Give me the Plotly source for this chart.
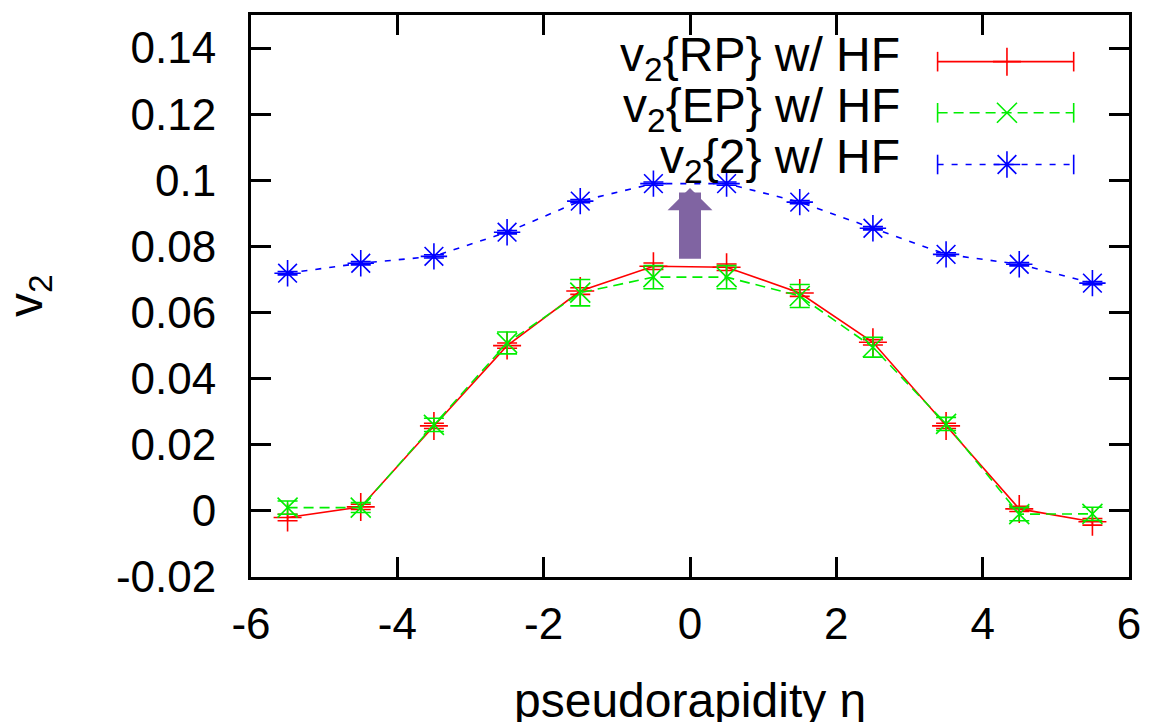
import plotly.graph_objects as go

eta = [-5.5, -4.5, -3.5, -2.5, -1.5, -0.5, 0.5, 1.5, 2.5, 3.5, 4.5, 5.5]

v2_rp = [-0.0020, 0.0012, 0.0257, 0.0500, 0.0665, 0.0740, 0.0737, 0.0659, 0.0510, 0.0257, 0.0006, -0.0033]
v2_rp_err = [0.0010, 0.0008, 0.0008, 0.0008, 0.0010, 0.0010, 0.0010, 0.0010, 0.0008, 0.0008, 0.0008, 0.0010]

v2_ep = [0.0010, 0.0010, 0.0260, 0.0508, 0.0660, 0.0707, 0.0707, 0.0650, 0.0495, 0.0263, -0.0010, -0.0009]
v2_ep_err = [0.0020, 0.0015, 0.0020, 0.0033, 0.0040, 0.0035, 0.0035, 0.0035, 0.0030, 0.0020, 0.0020, 0.0020]

v2_2 = [0.0719, 0.0749, 0.0770, 0.0843, 0.0937, 0.0990, 0.0990, 0.0934, 0.0855, 0.0776, 0.0746, 0.0689]
v2_2_err = [0.0005] * 12

legend_labels = ["v<sub>2</sub>{RP} w/ HF", "v<sub>2</sub>{EP} w/ HF", "v<sub>2</sub>{2} w/ HF"]

ytick_vals = [-0.02, 0, 0.02, 0.04, 0.06, 0.08, 0.1, 0.12, 0.14]
ytick_text = ["-0.02", "0", "0.02", "0.04", "0.06", "0.08", "0.1", "0.12", "0.14"]
xtick_vals = [-6, -4, -2, 0, 2, 4, 6]
xtick_text = ["-6", "-4", "-2", "0", "2", "4", "6"]

arrow_x = 0
arrow_tip = 0.0977
arrow_base = 0.0758

FONT = "Liberation Sans, Arial, sans-serif"
RED = "#ff0000"
GREEN = "#00ee00"
BLUE = "#0000ff"
PURPLE = "#8064a2"

DASHES = {"solid": "solid", "dash": "10px,6px", "dot": "6px,8px"}

fig = go.Figure()

series = [
    (v2_rp, v2_rp_err, RED, "solid", "cross-thin-open", 20),
    (v2_ep, v2_ep_err, GREEN, "dash", "x-thin-open", 20),
    (v2_2, v2_2_err, BLUE, "dot", "asterisk-open", 22),
]

for vals, errs, col, dash, sym, size in series:
    fig.add_trace(go.Scatter(
        x=eta, y=vals, mode="lines+markers",
        line=dict(color=col, width=1.6, dash=DASHES[dash]),
        marker=dict(symbol=sym, size=size, color=col, line=dict(color=col, width=1.6)),
        error_y=dict(type="data", array=errs, visible=True, color=col, thickness=1.6, width=10),
        showlegend=False,
    ))

# legend samples drawn on an overlay axis (0..1 of the plot area)
leg_rows = [0.917, 0.826, 0.734]
leg_x0, leg_x1, leg_xm = 0.782, 0.937, 0.861
for (vals, errs, col, dash, sym, size), yy, lab in zip(series, leg_rows, legend_labels):
    fig.add_trace(go.Scatter(
        x=[leg_x0, leg_x1], y=[yy, yy], mode="lines+markers",
        line=dict(color=col, width=1.6, dash=DASHES[dash]),
        marker=dict(symbol="line-ns-open", size=14, color=col, line=dict(color=col, width=1.6)),
        xaxis="x2", yaxis="y2", showlegend=False, hoverinfo="skip",
    ))
    fig.add_trace(go.Scatter(
        x=[leg_xm], y=[yy], mode="markers",
        marker=dict(symbol=sym, size=size, color=col, line=dict(color=col, width=1.6)),
        xaxis="x2", yaxis="y2", showlegend=False, hoverinfo="skip",
    ))
    fig.add_annotation(
        x=0.742, y=yy, xref="x2", yref="y2", yshift=4, text=lab, showarrow=False,
        xanchor="right", yanchor="middle", font=dict(family=FONT, size=48, color="black"),
    )

fig.add_annotation(
    x=arrow_x, y=arrow_tip, ax=arrow_x, ay=arrow_base, xref="x", yref="y", axref="x", ayref="y",
    text="", showarrow=True, arrowhead=1, arrowsize=0.34, arrowwidth=22, arrowcolor=PURPLE,
    standoff=0, startstandoff=0,
)

fig.add_annotation(
    x=0.5, y=0, xref="paper", yref="paper", yshift=-123, text="pseudorapidity η",
    showarrow=False, xanchor="center", yanchor="middle", font=dict(family=FONT, size=48, color="black"),
)
fig.add_annotation(
    x=0, y=0.5, xref="paper", yref="paper", xshift=-222, text="v<sub>2</sub>", textangle=-90,
    showarrow=False, xanchor="center", yanchor="middle", font=dict(family=FONT, size=48, color="black"),
)

axis_common = dict(
    showline=True, linecolor="black", linewidth=3, mirror="ticks",
    ticks="inside", ticklen=20, tickwidth=3, tickcolor="black",
    showgrid=False, zeroline=False,
    tickfont=dict(family=FONT, size=44, color="black"),
)

fig.update_layout(
    width=1153, height=722,
    margin=dict(l=251, r=22, t=12, b=145),
    paper_bgcolor="white", plot_bgcolor="white",
    xaxis=dict(range=[-6, 6], tickvals=xtick_vals, ticktext=xtick_text, ticklabelstandoff=6, **axis_common),
    yaxis=dict(range=[-0.02, 0.15], tickvals=ytick_vals, ticktext=ytick_text, ticklabelstandoff=23, **axis_common),
    xaxis2=dict(range=[0, 1], overlaying="x", visible=False, fixedrange=True),
    yaxis2=dict(range=[0, 1], overlaying="y", visible=False, fixedrange=True),
)

fig.write_html(
    "out.html",
    config={"displayModeBar": False},
    post_script="document.body.style.margin='0';document.body.style.overflow='hidden';",
)
